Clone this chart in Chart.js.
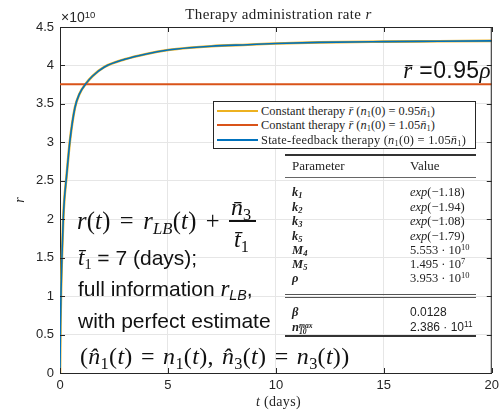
<!DOCTYPE html>
<html><head><meta charset="utf-8">
<script src="https://cdn.jsdelivr.net/npm/chart.js@4.4.1/dist/chart.umd.min.js"></script>
<style>
body{margin:0;background:#fff;}
#wrap{position:relative;width:504px;height:412px;overflow:hidden;background:#fff;}
canvas{position:absolute;left:0;top:0;}
.ov{position:absolute;white-space:nowrap;color:#262626;}
.serif{font-family:"Liberation Serif","Times New Roman",serif;}
.sans{font-family:"Liberation Sans",Arial,sans-serif;}
.math{font-family:"Liberation Serif","Times New Roman",serif;}
sub,sup{font-size:0.68em;line-height:0;}
sub{vertical-align:-0.28em;}
sup{vertical-align:0.45em;}
.hl{position:absolute;background:#333;}
.tb{position:absolute;white-space:nowrap;font-family:"Liberation Serif","Times New Roman",serif;font-size:12.5px;line-height:14px;color:#222;}
.sym{font-weight:bold;font-style:italic;}
.stk{display:inline-block;vertical-align:-0.35em;line-height:0.75em;font-size:0.62em;text-align:left;}
#legend{position:absolute;left:213px;top:101px;width:263px;height:48px;box-sizing:border-box;border:1px solid #262626;background:#fff;}
.lrow{position:absolute;left:0;height:14px;}
.lline{position:absolute;left:3px;width:41px;height:2px;top:6px;}
.ltext{position:absolute;left:47px;top:0;font-family:"Liberation Serif","Times New Roman",serif;font-size:12.4px;line-height:14px;color:#262626;white-space:nowrap;}
</style></head><body>
<div id="wrap">
<canvas id="c" width="504" height="412"></canvas>

<div class="ov serif" style="left:60px;width:437px;top:6px;text-align:center;font-size:15px;letter-spacing:0.35px;line-height:16px;color:#222;">Therapy administration rate <i>r</i></div>
<div class="ov sans" style="left:61px;top:9px;font-size:14px;line-height:16px;">&times;10<sup>10</sup></div>
<div class="ov serif" style="left:60px;width:437px;top:394px;text-align:center;font-size:14px;letter-spacing:0.3px;line-height:16px;"><i>t</i> (days)</div>
<div class="ov serif" style="left:12px;top:192px;width:16px;text-align:center;font-size:14px;line-height:16px;transform:rotate(-90deg);"><i>r</i></div>

<div class="ov" style="right:13px;top:57px;font-size:23px;line-height:26px;color:#111;letter-spacing:0.4px;"><i class="math">r&#772;</i><span class="sans"> =0.95</span><i class="math">&rho;</i></div>

<div id="legend">
  <div class="lrow" style="top:2px;width:100%"><div class="lline" style="background:#EDB120"></div><div class="ltext">Constant therapy <i>r&#772;</i> (<i>n</i><sub>1</sub>(0) = 0.95<i>n&#772;</i><sub>1</sub>)</div></div>
  <div class="lrow" style="top:16px;width:100%"><div class="lline" style="background:#D95319"></div><div class="ltext">Constant therapy <i>r&#772;</i> (<i>n</i><sub>1</sub>(0) = 1.05<i>n&#772;</i><sub>1</sub>)</div></div>
  <div class="lrow" style="top:31px;width:100%"><div class="lline" style="background:#0072BD"></div><div class="ltext" style="letter-spacing:0.25px">State-feedback therapy (<i>n</i><sub>1</sub>(0) = 1.05<i>n&#772;</i><sub>1</sub>)</div></div>
</div>

<!-- parameter table -->
<div class="hl" style="left:285px;top:154px;width:191px;height:1.5px;"></div>
<div class="tb" style="left:292px;top:159px;font-size:13px;">Parameter</div>
<div class="tb" style="left:410px;top:159px;font-size:13px;">Value</div>
<div class="hl" style="left:285px;top:177px;width:191px;height:1px;background:#666;"></div>
<div id="tableRows"></div>
<div class="hl" style="left:285px;top:294px;width:191px;height:1px;background:#555;"></div>
<div class="hl" style="left:285px;top:296.5px;width:191px;height:1px;background:#555;"></div>
<div class="hl" style="left:285px;top:335px;width:191px;height:1.5px;"></div>

<!-- formula annotation -->
<div class="ov math" style="left:77px;top:208px;font-size:24.5px;word-spacing:3px;letter-spacing:0.2px;line-height:26px;color:#111;"><i>r</i>(<i>t</i>) = <i>r</i><sub><i>LB</i></sub>(<i>t</i>) +</div>
<div class="ov math" style="left:231px;top:195px;font-size:24px;line-height:24px;color:#111;"><i>n&#772;</i><sub>3</sub></div>
<div class="hl" style="left:229px;top:220px;width:27px;height:1.5px;background:#111;"></div>
<div class="ov math" style="left:234px;top:227px;font-size:24px;line-height:24px;color:#111;"><i>t&#772;</i><sub>1</sub></div>
<div class="ov" style="left:78px;top:246px;font-size:21px;line-height:24px;color:#111;"><i class="math" style="font-size:23px">t&#772;</i><sub class="math">1</sub><span class="sans"> = 7 (days);</span></div>
<div class="ov sans" style="left:78px;top:277px;font-size:21px;line-height:24px;color:#111;">full information <i class="math" style="font-size:23px">r</i><sub class="sans"><i>LB</i></sub>,</div>
<div class="ov sans" style="left:78px;top:309px;font-size:21px;line-height:24px;color:#111;">with perfect estimate</div>
<div class="ov math" style="left:80px;top:343px;font-size:24px;word-spacing:2px;letter-spacing:0.3px;line-height:26px;color:#111;">(<i>n&#770;</i><sub>1</sub>(<i>t</i>) = <i>n</i><sub>1</sub>(<i>t</i>), <i>n&#770;</i><sub>3</sub>(<i>t</i>) = <i>n</i><sub>3</sub>(<i>t</i>))</div>
</div>

<script>
// ---- data (r in units of 1e10) ----
const tDays = [0, 0.02, 0.05, 0.1, 0.15, 0.2, 0.3, 0.46, 0.69, 0.9, 1.22, 1.5, 2.06, 3, 4, 5, 6, 7, 8.7, 10, 12, 15, 17.5, 20];
const rStateFeedback = [0, 0.6, 1.1, 1.6, 2.0, 2.25, 2.55, 3.02, 3.45, 3.63, 3.77, 3.86, 3.98, 4.08, 4.15, 4.20, 4.23, 4.25, 4.27, 4.285, 4.30, 4.31, 4.315, 4.32];
const rConstantLow = [0, 0.6, 1.1, 1.6, 2.0, 2.25, 2.55, 3.02, 3.45, 3.63, 3.77, 3.86, 3.98, 4.08, 4.15, 4.20, 4.23, 4.25, 4.27, 4.285, 4.30, 4.31, 4.315, 4.32];
const tConstantHigh = [0, 20];
const rConstantHigh = [3.755, 3.755];
const xTicks = [0, 5, 10, 15, 20];
const yTicks = [0, 0.5, 1, 1.5, 2, 2.5, 3, 3.5, 4, 4.5];
const yTickLabels = ['0', '0.5', '1', '1.5', '2', '2.5', '3', '3.5', '4', '4.5'];

const paramNames = ['k<sub>1</sub>','k<sub>2</sub>','k<sub>3</sub>','k<sub>5</sub>','M<sub>4</sub>','M<sub>5</sub>','&rho;','&beta;','n<span class="stk">max<br>10</span>'];
const paramValues = ['<i>exp</i>(&minus;1.18)','<i>exp</i>(&minus;1.94)','<i>exp</i>(&minus;1.08)','<i>exp</i>(&minus;1.79)','5.553 &middot; 10<sup>10</sup>','1.495 &middot; 10<sup>7</sup>','3.953 &middot; 10<sup>10</sup>','0.0128','2.386 &middot; 10<sup>11</sup>'];
const rowCenters = [192, 207, 221, 236, 250, 264, 278, 312, 327];

const rowsDiv = document.getElementById('tableRows');
paramNames.forEach((n, i) => {
  const a = document.createElement('div');
  a.className = 'tb sym'; a.style.left = '292px'; a.style.top = (rowCenters[i] - 7) + 'px';
  a.innerHTML = n; rowsDiv.appendChild(a);
  const b = document.createElement('div');
  b.className = 'tb'; b.style.left = '410px'; b.style.top = (rowCenters[i] - 7) + 'px';
  if (i >= 7) { b.style.fontFamily = '"Liberation Sans", Arial, sans-serif'; b.style.fontSize = '12px'; }
  b.innerHTML = paramValues[i]; rowsDiv.appendChild(b);
});

const toPts = (xs, ys) => xs.map((x, i) => ({x: x, y: ys[i]}));

const boxTicks = {
  id: 'boxTicks',
  afterDraw(chart) {
    const {ctx, chartArea: a, scales: {x, y}} = chart;
    ctx.save();
    ctx.strokeStyle = '#262626';
    ctx.lineWidth = 1;
    ctx.beginPath();
    ctx.moveTo(a.left, a.top + 0.5); ctx.lineTo(a.right, a.top + 0.5);
    ctx.moveTo(a.right - 0.5, a.top); ctx.lineTo(a.right - 0.5, a.bottom);
    xTicks.forEach(v => {
      const px = Math.round(x.getPixelForValue(v)) + 0.5;
      ctx.moveTo(px, a.bottom); ctx.lineTo(px, a.bottom - 5);
      ctx.moveTo(px, a.top); ctx.lineTo(px, a.top + 5);
    });
    yTicks.forEach(v => {
      const py = Math.round(y.getPixelForValue(v)) + 0.5;
      ctx.moveTo(a.left, py); ctx.lineTo(a.left + 5, py);
      ctx.moveTo(a.right, py); ctx.lineTo(a.right - 5, py);
    });
    ctx.stroke();
    ctx.restore();
  }
};

new Chart(document.getElementById('c'), {
  type: 'line',
  data: {
    datasets: [
      {label: 'Constant therapy (n1(0)=0.95)', data: toPts(tDays, rConstantLow), borderColor: '#EDB120', borderWidth: 2.6, pointRadius: 0, cubicInterpolationMode: 'monotone', order: 3},
      {label: 'Constant therapy (n1(0)=1.05)', data: toPts(tConstantHigh, rConstantHigh), borderColor: '#D95319', borderWidth: 2, pointRadius: 0, order: 2},
      {label: 'State-feedback therapy', data: toPts(tDays, rStateFeedback), borderColor: '#0072BD', borderWidth: 1.6, pointRadius: 0, cubicInterpolationMode: 'monotone', order: 1}
    ]
  },
  options: {
    responsive: false, animation: false, devicePixelRatio: 1,
    layout: {padding: {top: 27, right: 7, left: 0, bottom: 0}},
    plugins: {legend: {display: false}, tooltip: {enabled: false}, title: {display: false}},
    scales: {
      x: {
        type: 'linear', min: 0, max: 20,
        afterBuildTicks(s) { s.ticks = xTicks.map(v => ({value: v})); },
        ticks: {color: '#262626', font: {family: 'Liberation Sans', size: 13}, padding: 5, maxRotation: 0},
        grid: {color: '#e6e6e6', drawTicks: false},
        border: {color: '#262626'},
        afterFit(s) { s.height = 39; }
      },
      y: {
        type: 'linear', min: 0, max: 4.5,
        afterBuildTicks(s) { s.ticks = yTicks.map(v => ({value: v})); },
        ticks: {color: '#262626', font: {family: 'Liberation Sans', size: 13}, padding: 6,
                callback: (v) => { const i = yTicks.indexOf(v); return i >= 0 ? yTickLabels[i] : ''; }},
        grid: {color: '#e6e6e6', drawTicks: false},
        border: {color: '#262626'},
        afterFit(s) { s.width = 60; }
      }
    }
  },
  plugins: [boxTicks]
});
</script>
</body></html>
